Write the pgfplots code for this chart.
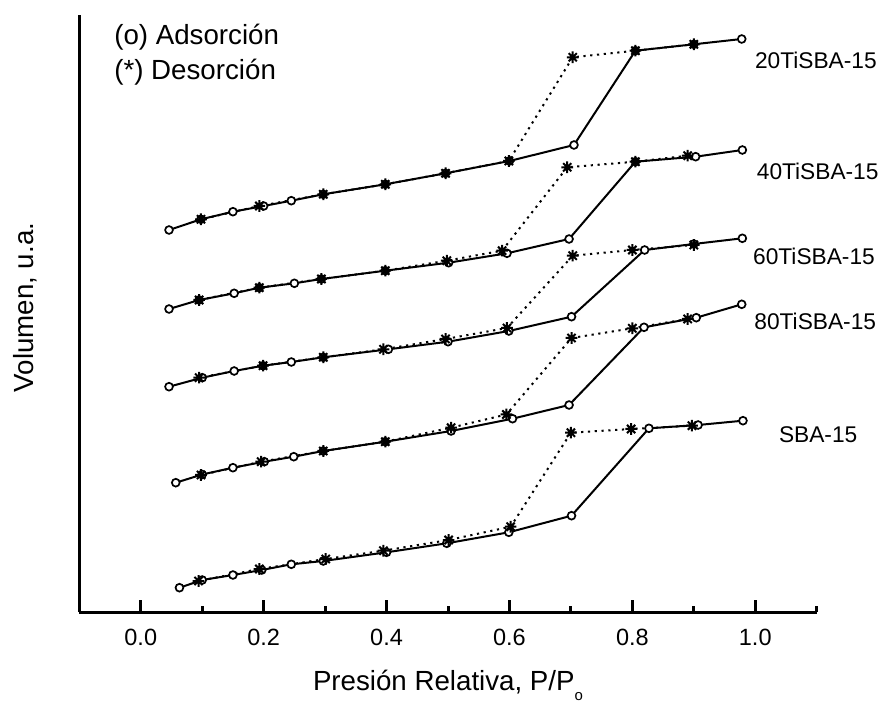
\documentclass[border=0pt]{standalone}
\usepackage{pgfplots}
\pgfplotsset{compat=1.18}
\usepackage{fontspec}
\setmainfont{Liberation Sans}
\usetikzlibrary{calc}

% eight-armed asterisk for the desorption points
\pgfdeclareplotmark{ast8}{%
  \pgfpathmoveto{\pgfqpoint{-\pgfplotmarksize}{0pt}}%
  \pgfpathlineto{\pgfqpoint{\pgfplotmarksize}{0pt}}%
  \pgfpathmoveto{\pgfqpoint{0pt}{-\pgfplotmarksize}}%
  \pgfpathlineto{\pgfqpoint{0pt}{\pgfplotmarksize}}%
  \pgfpathmoveto{\pgfqpoint{-.7071\pgfplotmarksize}{-.7071\pgfplotmarksize}}%
  \pgfpathlineto{\pgfqpoint{.7071\pgfplotmarksize}{.7071\pgfplotmarksize}}%
  \pgfpathmoveto{\pgfqpoint{-.7071\pgfplotmarksize}{.7071\pgfplotmarksize}}%
  \pgfpathlineto{\pgfqpoint{.7071\pgfplotmarksize}{-.7071\pgfplotmarksize}}%
  \pgfusepathqstroke}

% Isotherm styles: adsorption (open circles, solid) and desorption (asterisks, dotted)
\pgfplotsset{
  ads/.style={black, line width=1bp, mark=*, mark size=1.95bp,
    mark options={fill=white, draw=black, line width=0.85bp, solid}},
  des/.style={black, line width=1bp, dash pattern=on 1.1bp off 2.3bp,
    mark=ast8, mark size=2.9bp, mark options={line width=1bp, solid}},
}

\begin{document}
\begin{tikzpicture}
\begin{axis}[
  name=ax,
  scale only axis,
  width=368.7bp, height=298.5bp,
  xmin=-0.1, xmax=1.1,
  ymin=0, ymax=597,
  axis lines=left,
  axis line style={-, line width=1.5bp},
  xtick={0,0.2,...,1.0},
  minor xtick={0.1,0.3,0.5,0.7,0.9,1.1},
  ytick=\empty,
  tick align=inside,
  major tick length=6bp,
  minor tick length=3bp,
  every tick/.style={black, line width=1.5bp},
  xticklabel style={font=\fontsize{11.8}{13}\selectfont, inner sep=0pt, anchor=north, yshift=-8.5bp},
  /pgf/number format/assume math mode=true,
  /pgf/number format/.cd, fixed, fixed zerofill, precision=1,
  /pgfplots/.cd,
  clip=false,
]

% ---- 20TiSBA-15 ----
\addplot[ads] coordinates {
  (0.046,382) (0.098,392.7) (0.150,400.3) (0.200,406) (0.245,411.3)
  (0.297,417.7) (0.398,427.7) (0.496,438.7) (0.600,451) (0.705,467)
  (0.805,561.3) (0.900,567.7) (0.978,573)};
\addplot[des] coordinates {
  (0.900,567.7) (0.805,561.3) (0.703,554.7) (0.599,451) (0.496,438.7)
  (0.398,427.7) (0.297,417.7) (0.193,406) (0.098,392.7)};

% ---- 40TiSBA-15 ----
\addplot[ads] coordinates {
  (0.046,303) (0.095,312) (0.152,318.7) (0.193,324.3) (0.250,328.7)
  (0.294,333) (0.398,341.3) (0.501,349.3) (0.596,358.7) (0.697,373)
  (0.805,450.3) (0.903,455.3) (0.979,462)};
\addplot[des] coordinates {
  (0.890,456.3) (0.805,450.3) (0.694,444.7) (0.588,361.3) (0.498,351.3)
  (0.398,341.3) (0.294,333) (0.193,324.3) (0.095,312)};

% ---- 60TiSBA-15 ----
\addplot[ads] coordinates {
  (0.046,225.3) (0.100,234.3) (0.152,241) (0.199,246.3) (0.245,250)
  (0.297,254.7) (0.403,262.7) (0.500,270.3) (0.599,281) (0.701,295.3)
  (0.820,362) (0.900,368) (0.979,373.7)};
\addplot[des] coordinates {
  (0.900,367) (0.800,362) (0.703,356.3) (0.596,284) (0.496,273)
  (0.395,262.7) (0.297,254.7) (0.199,246.3) (0.095,234.3)};

% ---- 80TiSBA-15 ----
\addplot[ads] coordinates {
  (0.057,129.3) (0.100,137.5) (0.150,144.3) (0.201,150.3) (0.249,155.3)
  (0.297,161) (0.398,170.3) (0.505,181) (0.605,193.3) (0.697,207)
  (0.819,284.7) (0.904,294.3) (0.978,307.7)};
\addplot[des] coordinates {
  (0.890,293) (0.800,283.7) (0.701,274) (0.595,197.5) (0.505,184.3)
  (0.398,170.3) (0.297,161) (0.196,150.3) (0.098,137)};

% ---- SBA-15 ----
\addplot[ads] coordinates {
  (0.063,24.3) (0.100,32) (0.150,37) (0.197,42) (0.245,47.7)
  (0.297,51) (0.400,59.7) (0.498,68.7) (0.599,79.7) (0.701,96.3)
  (0.827,183.7) (0.907,187) (0.980,191.3)};
\addplot[des] coordinates {
  (0.897,186.3) (0.798,183) (0.700,179.3) (0.602,85.3) (0.501,72)
  (0.395,61.3) (0.301,53) (0.193,43) (0.094,31)};

% sample names
\begin{scope}[every node/.style={font=\fontsize{11.4}{13}\selectfont, anchor=base west, inner sep=0pt}]
  \node at (axis cs:0.999,543.7) {20TiSBA-15};
  \node at (axis cs:1.002,432) {40TiSBA-15};
  \node at (axis cs:0.996,347.7) {60TiSBA-15};
  \node at (axis cs:0.998,282) {80TiSBA-15};
  \node at (axis cs:1.038,169.3) {SBA-15};
\end{scope}

% branch key
\begin{scope}[every node/.style={font=\fontsize{13.9}{16}\selectfont, anchor=base west, inner sep=0pt}]
  \node at (axis cs:-0.0436,567) {(o) Adsorción};
  \node at (axis cs:-0.0436,532) {(*) Desorción};
\end{scope}

\coordinate (xl) at (rel axis cs:0.5,0);
\coordinate (yl) at (rel axis cs:0,0.51);
\end{axis}

% axis titles
\node[font=\fontsize{13.9}{16}\selectfont, anchor=base, inner sep=0pt]
  at ($(xl)+(0,-39bp)$)
  {Presión Relativa, P/P\raisebox{-5bp}{\fontsize{7.5}{8}\selectfont o}};
\path ($(yl)+(-23.15bp,0)$) node[font=\fontsize{13.9}{16}\selectfont, anchor=base, inner sep=0pt, rotate=90] {Volumen, u.a.};

\pgfresetboundingbox
\path[use as bounding box] ($(ax.south west)+(-39.65bp,-45.5bp)$) rectangle ($(ax.north east)+(32.65bp,7.5bp)$);
\end{tikzpicture}
\end{document}
